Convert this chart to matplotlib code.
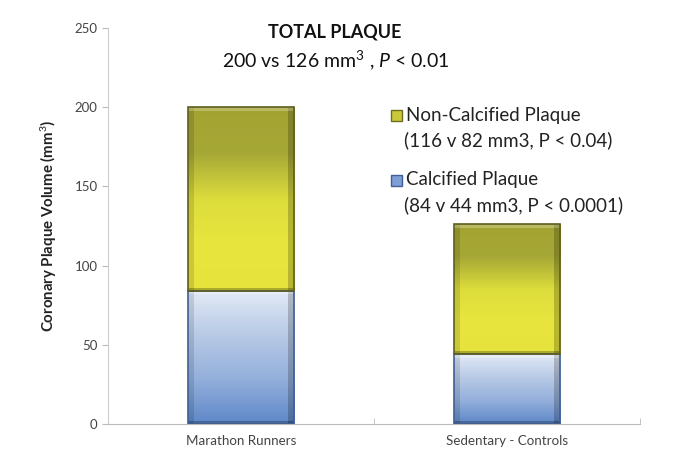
import matplotlib
matplotlib.use('Agg')
import matplotlib.pyplot as plt
import matplotlib.colors as mcolors
import numpy as np

plt.rcParams['font.family'] = ['Lato', 'DejaVu Sans']
plt.rcParams['mathtext.fontset'] = 'custom'
plt.rcParams['mathtext.rm'] = 'Lato'
plt.rcParams['mathtext.it'] = 'Lato:italic'
plt.rcParams['mathtext.bf'] = 'Lato:bold'

groups = ['Marathon Runners', 'Sedentary - Controls']
calcified = [84, 44]
non_calcified = [116, 82]
totals = [200, 126]
yticks = [0, 50, 100, 150, 200, 250]

# gradient colours, top -> bottom
yellow_cmap = mcolors.LinearSegmentedColormap.from_list(
    'yel', ['#a3a332', '#a6a836', '#dcdc3c', '#e8e63e', '#e6e43c'])
blue_cmap = mcolors.LinearSegmentedColormap.from_list(
    'blu', ['#e2eaf6', '#b8cae6', '#93afdb', '#5e87c8'])


def gradient_bar(ax, bar, cmap, edge):
    x, y = bar.get_x(), bar.get_y()
    w, h = bar.get_width(), bar.get_height()
    grad = np.linspace(0, 1, 256).reshape(-1, 1)
    im = ax.imshow(grad, cmap=cmap, aspect='auto', origin='upper',
                   extent=[x, x + w, y, y + h], zorder=2)
    im.set_clip_path(bar)
    bar.set_facecolor('none')
    bar.set_edgecolor(edge)
    bar.set_linewidth(1.2)
    bar.set_zorder(3)
    # simple bevel on the sides
    ax.add_patch(plt.Rectangle((x, y), w * 0.06, h, color='black', alpha=0.12, lw=0, zorder=2.5))
    ax.add_patch(plt.Rectangle((x + w * 0.94, y), w * 0.06, h, color='black', alpha=0.2, lw=0, zorder=2.5))
    ax.add_patch(plt.Rectangle((x, y + h - 2.2), w, 2.2, color='white', alpha=0.25, lw=0, zorder=2.5))
    ax.add_patch(plt.Rectangle((x, y), w, 1.8, color='black', alpha=0.25, lw=0, zorder=2.5))


fig = plt.figure(figsize=(6.74, 4.73), dpi=100)
ax = fig.add_axes([108 / 674, 49 / 473, 532 / 674, 396 / 473])

xpos = np.arange(len(groups))
b1 = ax.bar(xpos, calcified, width=0.4)
b2 = ax.bar(xpos, non_calcified, width=0.4, bottom=calcified)
for bar in b1:
    gradient_bar(ax, bar, blue_cmap, '#3f5f96')
for bar in b2:
    gradient_bar(ax, bar, yellow_cmap, '#5e5e1e')

ax.set_xlim(-0.5, 1.5)
ax.set_ylim(0, 250)
ax.set_yticks(yticks)
ax.set_xticks(xpos)
ax.set_xticklabels(groups, fontsize=9.6, color='#444444')
ax.set_xticks([-0.5, 0.5, 1.5], minor=True)
ax.tick_params(axis='x', which='major', length=0, pad=8)
ax.tick_params(axis='x', which='minor', length=4, color='#bbbbbb', direction='in')
ax.tick_params(axis='y', labelsize=9.5, colors='#555555', length=4, color='#bbbbbb')
for lab in ax.get_yticklabels():
    lab.set_color('#444444')
ax.spines['top'].set_visible(False)
ax.spines['right'].set_visible(False)
ax.spines['left'].set_color('#cccccc')
ax.spines['bottom'].set_color('#bbbbbb')
ax.set_ylabel('Coronary Plaque Volume (mm$^3$)', fontsize=10.8, fontweight='bold',
              color='#222222', labelpad=11)

fig.text(335 / 674, 1 - 32 / 473, 'TOTAL PLAQUE', ha='center', va='center',
         fontsize=13, fontweight='bold', color='#111111')
fig.text(336 / 674, 1 - 60 / 473,
         f'{totals[0]} vs {totals[1]} mm$^3$ , $\\it{{P}}$ < 0.01',
         ha='center', va='center', fontsize=14, color='#111111')

# legend
leg = [
    (115, 'Non-Calcified Plaque', '(116 v 82 mm3, P < 0.04)', '#c8c83a', '#6e6e22'),
    (180, 'Calcified Plaque', '(84 v 44 mm3, P < 0.0001)', '#7e9fd6', '#3f5f96'),
]
for ytop, line1, line2, fc, ec in leg:
    fig.patches.append(plt.Rectangle((391 / 674, 1 - (ytop + 6) / 473), 11 / 674, 11 / 473,
                                     transform=fig.transFigure, facecolor=fc,
                                     edgecolor=ec, lw=1))
    fig.text(406 / 674, 1 - ytop / 473, line1, ha='left', va='center',
             fontsize=13.5, color='#222222')
    fig.text(404 / 674, 1 - (ytop + 25) / 473, line2, ha='left', va='center',
             fontsize=13.5, color='#222222')

fig.savefig('out.png', dpi=100)
